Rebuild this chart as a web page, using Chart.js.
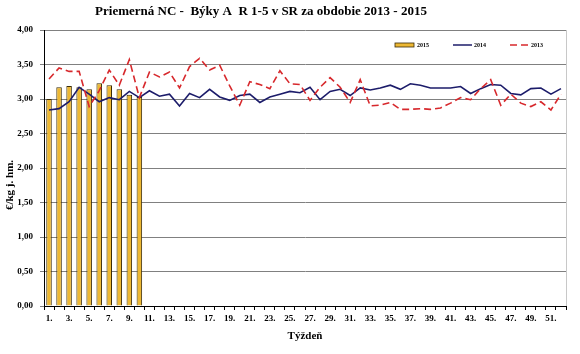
<!DOCTYPE html>
<html>
<head>
<meta charset="utf-8">
<script src="https://cdn.jsdelivr.net/npm/chart.js"></script>
<style>
html, body { margin: 0; padding: 0; background: #fff; }
</style>
</head>
<body>
<canvas id="chart" width="580" height="354"></canvas>
<script>
// Priemerna NC - Byky A R 1-5, weekly prices (EUR/kg live weight)

const weeks = ["1.", "2.", "3.", "4.", "5.", "6.", "7.", "8.", "9.", "10.",
    "11.", "12.", "13.", "14.", "15.", "16.", "17.", "18.", "19.", "20.",
    "21.", "22.", "23.", "24.", "25.", "26.", "27.", "28.", "29.", "30.",
    "31.", "32.", "33.", "34.", "35.", "36.", "37.", "38.", "39.", "40.",
    "41.", "42.", "43.", "44.", "45.", "46.", "47.", "48.", "49.", "50.",
    "51.", "52."];

const prices2015 = [3.00, 3.17, 3.19, 3.17, 3.14, 3.23, 3.20, 3.14, 3.06, 3.03];

const prices2014 = [2.84, 2.86, 2.96, 3.17, 3.07, 2.96, 3.02, 2.99, 3.11, 3.02,
    3.12, 3.04, 3.07, 2.90, 3.08, 3.02, 3.14, 3.03, 2.98, 3.05,
    3.07, 2.95, 3.03, 3.07, 3.11, 3.09, 3.17, 2.99, 3.11, 3.14,
    3.05, 3.16, 3.13, 3.16, 3.20, 3.14, 3.22, 3.20, 3.16, 3.16,
    3.16, 3.18, 3.08, 3.15, 3.21, 3.20, 3.08, 3.06, 3.15, 3.16,
    3.07, 3.15];

const prices2013 = [3.29, 3.45, 3.40, 3.40, 2.89, 3.12, 3.42, 3.20, 3.57, 3.02,
    3.39, 3.32, 3.39, 3.16, 3.47, 3.59, 3.42, 3.49, 3.19, 2.91,
    3.25, 3.21, 3.15, 3.41, 3.22, 3.21, 2.98, 3.17, 3.31, 3.17,
    2.95, 3.28, 2.90, 2.91, 2.95, 2.85, 2.85, 2.86, 2.85, 2.87,
    2.94, 3.02, 2.99, 3.15, 3.28, 2.91, 3.07, 2.94, 2.89, 2.96,
    2.84, 3.07];

const serif = "'Liberation Serif', 'Times New Roman', serif";
const gold = "#EDB833";
const navy = "#1C1C6A";
const red = "#D7282C";

// title, y title, legend and right frame line
const decorations = {
    id: "decorations",
    afterDraw(chart) {
        const ctx = chart.ctx;
        const area = chart.chartArea;
        ctx.save();

        ctx.strokeStyle = "#c8c8c8";
        ctx.lineWidth = 1;
        ctx.beginPath();
        ctx.moveTo(area.right + 0.5, area.top);
        ctx.lineTo(area.right + 0.5, area.bottom);
        ctx.stroke();

        ctx.fillStyle = "#000";
        ctx.font = "bold 13px " + serif;
        ctx.textAlign = "center";
        ctx.textBaseline = "middle";
        ctx.fillText("Priemerná NC -  Býky A  R 1-5 v SR za obdobie 2013 - 2015", 261, 12);

        ctx.save();
        ctx.translate(10, 185);
        ctx.rotate(-Math.PI / 2);
        ctx.font = "bold 11px " + serif;
        ctx.fillText("€/kg j. hm.", 0, 0);
        ctx.restore();

        // legend
        const ly = 45;
        ctx.font = "bold 6px " + serif;
        ctx.textAlign = "left";
        ctx.fillStyle = gold;
        ctx.fillRect(395, ly - 2, 19, 4);
        ctx.strokeStyle = "#3a2c08";
        ctx.lineWidth = 0.8;
        ctx.strokeRect(395, ly - 2, 19, 4);
        ctx.fillStyle = "#000";
        ctx.fillText("2015", 417, ly);

        ctx.strokeStyle = navy;
        ctx.lineWidth = 1.5;
        ctx.beginPath();
        ctx.moveTo(453, ly);
        ctx.lineTo(472, ly);
        ctx.stroke();
        ctx.fillText("2014", 474, ly);

        ctx.strokeStyle = red;
        ctx.setLineDash([7, 4]);
        ctx.beginPath();
        ctx.moveTo(510, ly);
        ctx.lineTo(529, ly);
        ctx.stroke();
        ctx.setLineDash([]);
        ctx.fillText("2013", 531, ly);

        ctx.restore();
    }
};

const chart = new Chart(document.getElementById("chart"), {
    type: "bar",
    data: {
        labels: weeks,
        datasets: [
            {
                type: "line",
                label: "2013",
                data: prices2013,
                borderColor: red,
                borderWidth: 1.6,
                borderDash: [7, 4],
                pointRadius: 0,
                tension: 0,
                fill: false,
                order: 0
            },
            {
                type: "line",
                label: "2014",
                data: prices2014,
                borderColor: navy,
                borderWidth: 1.6,
                pointRadius: 0,
                tension: 0,
                fill: false,
                order: 1
            },
            {
                type: "bar",
                label: "2015",
                data: prices2015,
                backgroundColor: gold,
                borderColor: "#3a2c08",
                borderWidth: 1,
                barPercentage: 0.55,
                categoryPercentage: 1,
                order: 2
            }
        ]
    },
    options: {
        responsive: false,
        animation: false,
        layout: { padding: { top: 30, right: 14, bottom: 0, left: 0 } },
        plugins: {
            legend: { display: false },
            tooltip: { enabled: false }
        },
        scales: {
            x: {
                offset: true,
                afterFit(scale) { scale.height = 48; },
                grid: {
                    offset: true,
                    drawOnChartArea: false,
                    drawTicks: true,
                    tickLength: 4,
                    color: "#000"
                },
                border: { color: "#000", width: 1 },
                ticks: {
                    autoSkip: false,
                    maxRotation: 0,
                    padding: 3,
                    color: "#000",
                    font: { family: serif, size: 9, weight: "bold" },
                    callback: function(value, index) {
                        return index % 2 === 0 ? weeks[index] : "";
                    }
                },
                title: {
                    display: true,
                    text: "Týždeň",
                    color: "#000",
                    font: { family: serif, size: 11, weight: "bold" },
                    padding: { top: 0, bottom: 11 }
                }
            },
            y: {
                min: 0,
                max: 4,
                afterFit(scale) { scale.width = 44; },
                grid: {
                    color: "#808080",
                    lineWidth: 1,
                    drawTicks: true,
                    tickLength: 4
                },
                border: { color: "#000", width: 1 },
                ticks: {
                    stepSize: 0.5,
                    padding: 7,
                    color: "#000",
                    font: { family: serif, size: 9, weight: "bold" },
                    callback: v => v.toFixed(2).replace(".", ",")
                }
            }
        }
    },
    plugins: [decorations]
});
</script>
</body>
</html>
